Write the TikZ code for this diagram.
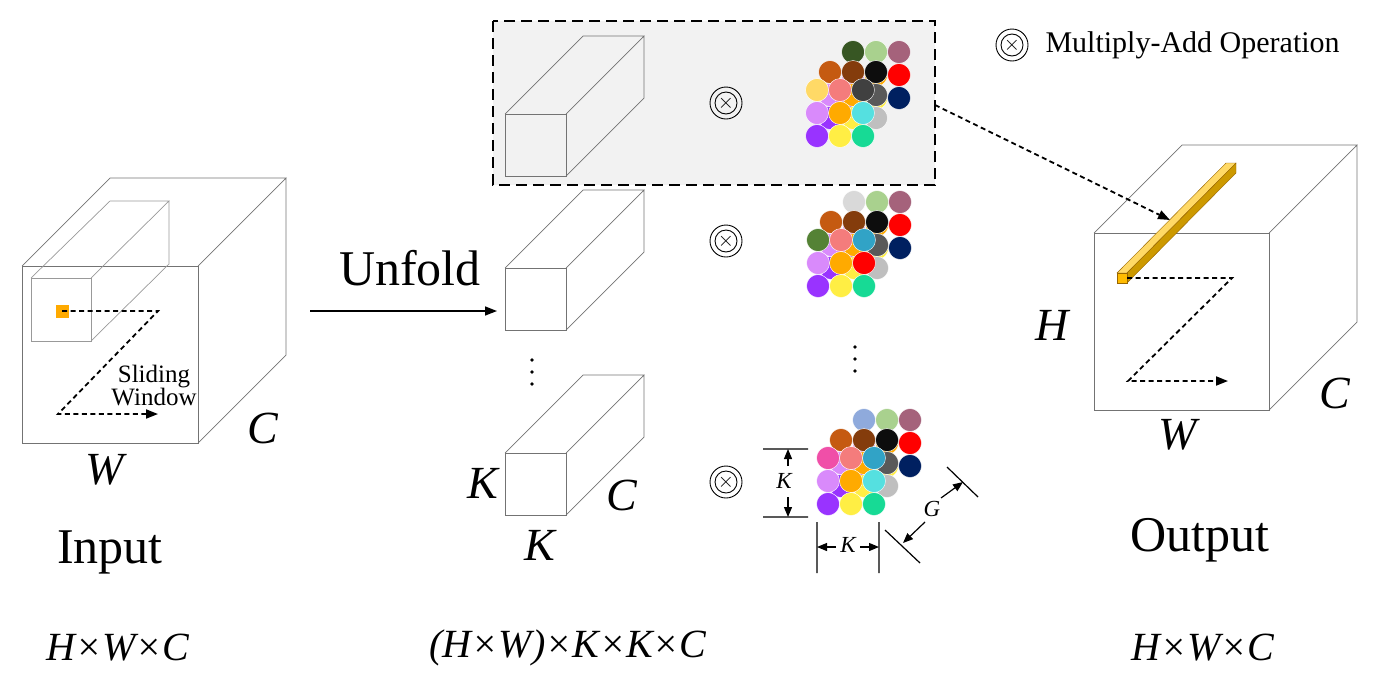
\documentclass[tikz,border=0pt]{standalone}
\usepackage{fontspec}
\setmainfont{Liberation Serif}
\usetikzlibrary{arrows.meta}
\definecolor{cYel}{HTML}{FFD966}\definecolor{cSal}{HTML}{F47C7C}\definecolor{cDg}{HTML}{404040}
\definecolor{cVio}{HTML}{D98AFB}\definecolor{cOra}{HTML}{FFAA00}\definecolor{cCya}{HTML}{55E0E0}
\definecolor{cPur}{HTML}{9933FF}\definecolor{cYlb}{HTML}{FFEE44}\definecolor{cGrn}{HTML}{17DA95}
\definecolor{cDgr}{HTML}{375623}\definecolor{cLgr}{HTML}{A9D18E}\definecolor{cMau}{HTML}{A5627B}
\definecolor{cRed}{HTML}{FF0000}\definecolor{cNav}{HTML}{002060}\definecolor{cBra}{HTML}{C55A11}
\definecolor{cBrb}{HTML}{843C0C}\definecolor{cBlk}{HTML}{0D0D0D}\definecolor{cGf}{HTML}{595959}
\definecolor{cLg}{HTML}{BFBFBF}\definecolor{cLgb}{HTML}{D9D9D9}\definecolor{cMg}{HTML}{548235}
\definecolor{cTeal}{HTML}{31A3C6}\definecolor{cPnk}{HTML}{F04FA8}\definecolor{cBlu}{HTML}{8FAADC}
\newcommand\drawlayer[3]{%
 \foreach \c [count=\i from 0] in {#3} {%
  \pgfmathtruncatemacro\rr{int(\i/3)}\pgfmathtruncatemacro\qq{mod(\i,3)}%
  \fill[\c,draw=white,line width=0.4pt] ({#1+23*\qq},{#2+23*\rr}) circle (11.5);}}
\newcommand\cluster[5]{% x y back middle front
 \drawlayer{#1+36}{#2-38}{#3}\drawlayer{#1+13}{#2-18}{#4}\drawlayer{#1}{#2}{#5}}
\newcommand\mybar[2]{% front left x, top y
 \draw[cubeline] (#1,#2) rectangle (#1+61,#2+62);
 \draw[cubeline] (#1,#2) -- (#1+78,#2-78) -- (#1+139,#2-78) -- (#1+61,#2)
   (#1+139,#2-78) -- (#1+139,#2-16) -- (#1+61,#2+62);}
\newcommand\vdts[3]{\foreach \k in {0,1,2} \fill (#1,#2+12*\k) circle (1.8); \coordinate (#3) at (#1,#2+12);}
\tikzset{
 cubeline/.style={draw=black!55,line width=0.7pt},
 big/.style={font=\fontsize{50}{50}\selectfont},
 bigi/.style={font=\fontsize{46}{46}\selectfont\itshape},
 dim/.style={font=\fontsize{40}{40}\selectfont\itshape},
 small/.style={font=\fontsize{25}{25}\selectfont},
 leg/.style={font=\fontsize{30}{30}\selectfont},
 tiny/.style={font=\fontsize{23}{23}\selectfont\itshape},
 dsh/.style={dash pattern=on 5pt off 3.5pt,line width=1.8pt,-{Triangle[length=12pt,width=9pt]}},
 otim/.style={circle,draw,line width=0.9pt,inner sep=0pt,minimum size=22pt,font=\fontsize{22}{22}\selectfont,
   append after command={\pgfextra{\draw[line width=0.9pt] (\tikzlastnode.center) circle (16);}}},
 dimar/.style={line width=1.2pt,-{Triangle[length=10pt,width=8pt]}}
}
\begin{document}
\begin{tikzpicture}[x=1pt,y=-1pt]
\useasboundingbox (0,0) rectangle (1378,686);
% input cube
\draw[cubeline] (22,266) rectangle (198,443);
\draw[cubeline] (22,266) -- (110,178) -- (286,178) -- (198,266) (286,178) -- (286,355) -- (198,443);
\draw[cubeline,draw=black!40] (31,278) rectangle (91,341);
\draw[cubeline,draw=black!40] (31,278) -- (110,201) -- (169,201) -- (91,278) (169,201) -- (169,264) -- (91,341);
\fill[cOra] (56,305) rectangle (69,318);
\coordinate (i1) at (62,311);\coordinate (i2) at (158,311);\coordinate (i3) at (58,414);\coordinate (i4) at (158,414);
\draw[dsh] (i1) -- (i2) -- (i3) -- (i4);
\node[small,align=center] (sw) at (154,386) {Sliding\\[-2pt]Window};
\node[bigi] (ic) at (263,428) {C};
\node[bigi] (iw) at (105,470) {W};
\node[big] (inp) at (110,552) {Input};
\node[dim] (ihwc) at (118,648) {H×W×C};
% unfold
\node[big] (unf) at (410,268) {Unfold};
\coordinate (u1) at (310,311);\coordinate (u2) at (497,311);
\draw[line width=1.5pt,-{Triangle[length=12pt,width=9pt]}] (u1) -- (u2);
% grey box
\draw[line width=1.4pt,dash pattern=on 11pt off 6pt,fill={rgb,255:red,242;green,242;blue,242}] (493,21) rectangle (935,185);
\mybar{505}{114}
\mybar{505}{268}
\mybar{505}{453}
\vdts{532}{360}{vd1}
\vdts{855}{347}{vd2}
\node[bigi] (kk1) at (483,483) {K};
\node[bigi] (kc) at (622,495) {C};
\node[bigi] (kk2) at (540,545) {K};
\node[dim] (kdims) at (568,648) {(H×W)×K×K×C};
% otimes
\node[otim] (o1) at (726,103) {$\times$};
\node[otim] (o2) at (726,241) {$\times$};
\node[otim] (o3) at (726,482) {$\times$};
\node[otim] (o4) at (1012,45) {$\times$};
\node[leg,anchor=west] (lg) at (1042,45) {Multiply-Add Operation};
% clusters
\cluster{817}{90}{cDgr,cLgr,cMau,cVio,cOra,cRed,cPur,cYlb,cNav}{cBra,cBrb,cBlk,cVio,cOra,cGf,cPur,cYlb,cLg}{cYel,cSal,cDg,cVio,cOra,cCya,cPur,cYlb,cGrn}
\cluster{818}{240}{cLgb,cLgr,cMau,cVio,cOra,cRed,cPur,cYlb,cNav}{cBra,cBrb,cBlk,cVio,cOra,cGf,cPur,cYlb,cLg}{cMg,cSal,cTeal,cVio,cOra,cRed,cPur,cYlb,cGrn}
\cluster{828}{458}{cBlu,cLgr,cMau,cVio,cOra,cRed,cPur,cYlb,cNav}{cBra,cBrb,cBlk,cVio,cOra,cGf,cPur,cYlb,cLg}{cPnk,cSal,cTeal,cVio,cOra,cCya,cPur,cYlb,cGrn}
% dimension marks
\draw[line width=1.2pt] (763,449) -- (808,449) (763,517) -- (808,517) (817,522) -- (817,573) (879,522) -- (879,573)
 (947,467) -- (978,497) (885,530) -- (920,563);
\node[tiny] (dk1) at (784,481) {K};
\node[tiny] (dk2) at (848,545) {K};
\node[tiny] (dg) at (932,509) {G};
\coordinate (b1) at (788,466);\coordinate (b2) at (788,497);\coordinate (b3) at (836,547);\coordinate (b4) at (860,547);
\coordinate (b5) at (941,498);\coordinate (b6) at (925,522);
\coordinate (a1) at (788,449);\coordinate (a2) at (788,517);\coordinate (a3) at (817,547);\coordinate (a4) at (879,547);
\coordinate (a5) at (963,482);\coordinate (a6) at (903,543);
\draw[dimar] (b1) -- (a1);\draw[dimar] (b2) -- (a2);
\draw[dimar] (b3) -- (a3);\draw[dimar] (b4) -- (a4);
\draw[dimar] (b5) -- (a5);\draw[dimar] (b6) -- (a6);
% output cube
\draw[cubeline] (1094,233) rectangle (1269,410);
\draw[cubeline] (1094,233) -- (1182,145) -- (1357,145) -- (1269,233) (1357,145) -- (1357,322) -- (1269,410);
\draw[cOra!60!black,fill=cYel,line width=0.4pt] (1117,273) -- (1226,163) -- (1236,163) -- (1127,273) -- cycle;
\draw[cOra!60!black,fill={rgb,255:red,204;green,153;blue,0},line width=0.4pt] (1127,273) -- (1236,163) -- (1236,173) -- (1127,283) -- cycle;
\draw[cOra!60!black,fill=cOra!80!yellow,line width=0.4pt] (1117,273) rectangle (1127,283);
\coordinate (p1) at (1127,278);\coordinate (p2) at (1232,278);\coordinate (p3) at (1128,381);\coordinate (p4) at (1228,381);
\draw[dsh] (p1) -- (p2) -- (p3) -- (p4);
\coordinate (bx) at (935,105);\coordinate (rod) at (1170,220);
\draw[dsh] (bx) -- (rod);
\node[bigi] (oh) at (1052,325) {H};
\node[bigi] (oc) at (1335,393) {C};
\node[bigi] (ow) at (1178,435) {W};
\node[big] (out) at (1200,540) {Output};
\node[dim] (ohwc) at (1203,648) {H×W×C};
\end{tikzpicture}
\end{document}
